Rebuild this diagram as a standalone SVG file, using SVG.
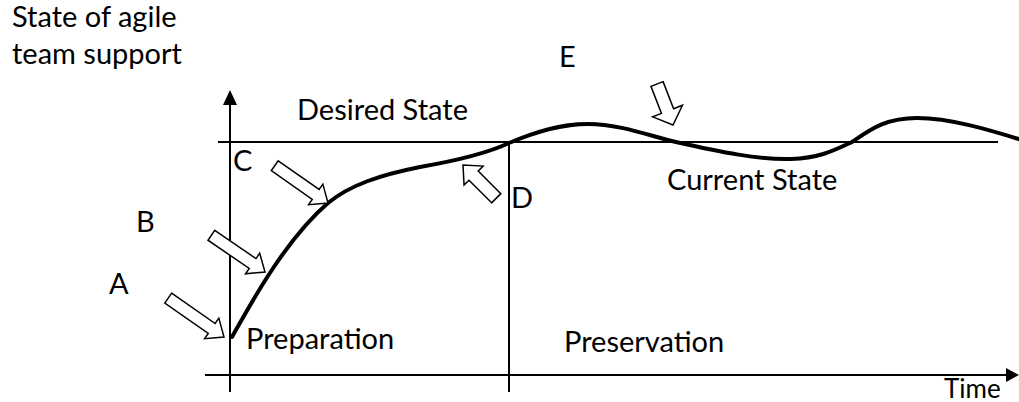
<svg xmlns="http://www.w3.org/2000/svg" width="1019" height="402" viewBox="0 0 1019 402">
<style>
text{font-family:Lato,"Liberation Sans",sans-serif;font-size:29px;fill:#000}
.ax{stroke:#000;stroke-width:2;fill:none}
.curve{stroke:#000;stroke-width:4;fill:none;stroke-linecap:round}
.blk{fill:#fff;stroke:#000;stroke-width:1.5;stroke-linejoin:miter}
</style>
<rect width="1019" height="402" fill="#fff"/>
<g id="connectors">
<line class="ax" x1="230" y1="100" x2="230" y2="392"/>
<polygon points="230,90 223,105 237,105" fill="#000"/>
<line class="ax" x1="205" y1="375" x2="1008" y2="375"/>
<polygon points="1019,375 1006,368 1006,382" fill="#000"/>
<line class="ax" x1="218" y1="142" x2="998" y2="142"/>
<line class="ax" x1="509" y1="142" x2="509" y2="392"/>
<path class="curve" d="M232,337 C250,305 285,240 328,203 C350,185 380,175 420,167 C460,160 490,152 509,143 C535,132 560,124 588,124 C620,124 650,136 676,142 C720,152 760,160 791,159 C820,158 835,150 852,142 C870,130 885,118 917,118 C950,118 990,130 1025,141"/>
</g>
<g id="arrowA"><polygon class="blk" transform="translate(224,337) rotate(34.9)" points="-68,-6 -15,-6 -15,-12.5 0,0 -15,12.5 -15,6 -68,6"/></g>
<g id="arrowB"><polygon class="blk" transform="translate(265,272) rotate(34.4)" points="-65,-6 -15,-6 -15,-12.5 0,0 -15,12.5 -15,6 -65,6"/></g>
<g id="arrowC"><polygon class="blk" transform="translate(328,203) rotate(35)" points="-65,-6 -15,-6 -15,-12.5 0,0 -15,12.5 -15,6 -65,6"/></g>
<g id="arrowD"><polygon class="blk" transform="translate(463,165) rotate(-135)" points="-47,-6.5 -15,-6.5 -15,-13.5 0,0 -15,13.5 -15,6.5 -47,6.5"/></g>
<g id="arrowE"><polygon class="blk" transform="translate(673,125) rotate(68.7)" points="-44,-6.5 -15,-6.5 -15,-16 0,0 -15,16 -15,6.5 -44,6.5"/></g>
<g id="labels">
<text x="12" y="27">State of agile</text>
<text x="12" y="64">team support</text>
<text x="559" y="67">E</text>
<text x="297" y="120">Desired State</text>
<text x="233" y="171">C</text>
<text x="136" y="232">B</text>
<text x="511" y="208">D</text>
<text x="667" y="190">Current State</text>
<text x="109" y="294">A</text>
<text x="246" y="349">Preparation</text>
<text x="564" y="352">Preservation</text>
<text x="944" y="398" style="font-size:26px">Time</text>
</g>
</svg>
